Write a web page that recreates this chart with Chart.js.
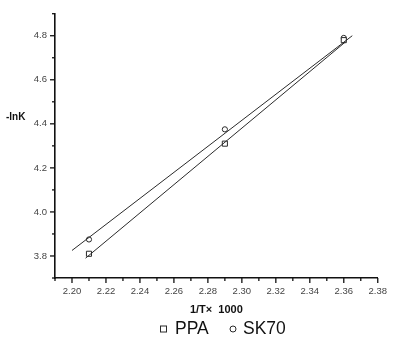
<!DOCTYPE html>
<html>
<head>
<meta charset="utf-8">
<script src="https://cdn.jsdelivr.net/npm/chart.js@4/dist/chart.umd.min.js"></script>
<style>
  html, body { margin: 0; padding: 0; background: #fff; }
  #box { width: 395px; height: 339px; position: relative; }
</style>
</head>
<body>
<div id="box"><canvas id="grafico"></canvas></div>
<script>
// pontos medidos
const tempInv   = [2.21, 2.29, 2.36];
const ppaVals   = [3.81, 4.31, 4.78];
const sk70Vals  = [3.875, 4.375, 4.79];

// retas ajustadas (extremos)
const ppaFitX   = [2.208, 2.361];
const ppaFitY   = [3.79, 4.772];
const sk70FitX  = [2.200, 2.365];
const sk70FitY  = [3.825, 4.80];

const nomes     = ["PPA", "SK70"];
const eixoY     = "-lnK";
const eixoX     = "1/T\u00d7  1000";

const COR = "#2a2a2a";
const FONTE = "'Liberation Sans', Arial, sans-serif";

const pares = (xs, ys) => xs.map((x, i) => ({ x, y: ys[i] }));

// ─── TICKS E TEXTOS ──────────────────────────────────────────────────────────
const extras = {
  id: "extras",
  afterDraw(chart) {
    const ctx = chart.ctx;
    const { x, y } = chart.scales;
    ctx.save();
    ctx.strokeStyle = "#111";
    ctx.lineWidth = 1.3;

    x.ticks.forEach(t => {
      const px = x.getPixelForValue(t.value);
      const len = t.label ? 5 : 3;
      ctx.beginPath();
      ctx.moveTo(px, x.top);
      ctx.lineTo(px, x.top + len);
      ctx.stroke();
    });
    y.ticks.forEach(t => {
      const py = y.getPixelForValue(t.value);
      const len = t.label ? 5 : 3;
      ctx.beginPath();
      ctx.moveTo(y.right, py);
      ctx.lineTo(y.right - len, py);
      ctx.stroke();
    });

    ctx.fillStyle = "#111";
    ctx.textBaseline = "middle";

    ctx.font = "bold 10px " + FONTE;
    ctx.textAlign = "left";
    ctx.fillText(eixoY, 6, 117);

    ctx.font = "bold 11px " + FONTE;
    ctx.textAlign = "center";
    ctx.fillText(eixoX, (x.left + x.right) / 2, 310);

    // legenda
    const ly = 329;
    ctx.lineWidth = 1;
    ctx.strokeStyle = COR;
    ctx.strokeRect(160.5, ly - 3, 6, 6);
    ctx.beginPath();
    ctx.arc(233, ly, 3, 0, Math.PI * 2);
    ctx.stroke();

    ctx.font = "17.5px " + FONTE;
    ctx.textAlign = "left";
    ctx.fillText(nomes[0], 175, ly);
    ctx.fillText(nomes[1], 243, ly);
    ctx.restore();
  }
};

new Chart(document.getElementById("grafico"), {
  type: "scatter",
  data: {
    datasets: [
      {
        label: nomes[0] + " ajuste",
        data: pares(ppaFitX, ppaFitY),
        showLine: true, borderColor: COR, borderWidth: 1, pointRadius: 0
      },
      {
        label: nomes[1] + " ajuste",
        data: pares(sk70FitX, sk70FitY),
        showLine: true, borderColor: COR, borderWidth: 1, pointRadius: 0
      },
      {
        label: nomes[0],
        data: pares(tempInv, ppaVals),
        pointStyle: "rect", pointRadius: 3.6,
        borderColor: COR, backgroundColor: "#fff", borderWidth: 1
      },
      {
        label: nomes[1],
        data: pares(tempInv, sk70Vals),
        pointStyle: "circle", pointRadius: 2.6,
        borderColor: COR, backgroundColor: "#fff", borderWidth: 1
      }
    ]
  },
  options: {
    responsive: true,
    maintainAspectRatio: false,
    animation: false,
    layout: { padding: { left: 0, top: 6, right: 10, bottom: 0 } },
    plugins: { legend: { display: false }, tooltip: { enabled: false } },
    scales: {
      x: {
        type: "linear",
        min: 2.19, max: 2.38,
        afterFit: s => { s.height = 61; },
        grid: { display: true, drawOnChartArea: false, drawTicks: false },
        border: { display: true, color: "#111", width: 1.6 },
        ticks: {
          stepSize: 0.01, autoSkip: false, maxRotation: 0, padding: 8,
          color: "#444", font: { family: FONTE, size: 9.5 },
          callback: v => Math.round(v * 100) % 2 === 0 ? v.toFixed(2) : ""
        }
      },
      y: {
        type: "linear",
        min: 3.7, max: 4.9,
        afterFit: s => { s.width = 55; },
        grid: { display: true, drawOnChartArea: false, drawTicks: false },
        border: { display: true, color: "#111", width: 1.6 },
        ticks: {
          stepSize: 0.1, autoSkip: false, padding: 8,
          color: "#444", font: { family: FONTE, size: 9.5 },
          callback: v => Math.round(v * 10) % 2 === 0 ? v.toFixed(1) : ""
        }
      }
    }
  },
  plugins: [extras]
});
</script>
</body>
</html>
